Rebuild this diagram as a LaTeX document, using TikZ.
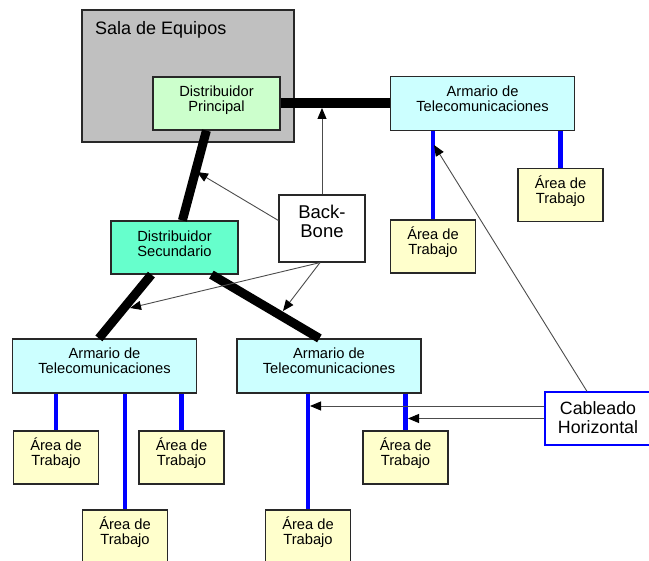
\documentclass[tikz,border=0pt]{standalone}
\usepackage{fontspec}
\setmainfont{Liberation Sans}
\usetikzlibrary{arrows.meta,calc}
\definecolor{salagray}{RGB}{192,192,192}
\definecolor{dpgreen}{RGB}{204,255,204}
\definecolor{dsgreen}{RGB}{102,255,204}
\definecolor{armcyan}{RGB}{204,255,255}
\definecolor{awyellow}{RGB}{255,255,204}
\definecolor{edgegray}{RGB}{40,40,40}
\definecolor{cablblue}{RGB}{0,0,255}
\newcommand\fsmall{\fontsize{14.7}{15}\selectfont}
\newcommand\fbig{\fontsize{18}{20}\selectfont}
% #1 width, #2 height, #3 first baseline from top, #4 line distance, #5 text
\newcommand\inbox[5]{\parbox[c][#2][t]{#1}{\centering\baselineskip=#4\rule{0pt}{#3}#5\par}}
\begin{document}
\begin{tikzpicture}[x=1pt,y=-1pt,
  box/.style={draw=edgegray,line width=1.2pt,inner sep=0pt,font=\fsmall},
  armbox/.style={box,fill=armcyan,minimum width=184pt,minimum height=54pt},
  awbox/.style={box,fill=awyellow,minimum width=85pt,minimum height=53pt},
  blueline/.style={draw=cablblue,line width=4.5pt},
  thickline/.style={draw=black,line width=9pt},
  arr/.style={draw=black!70,line width=0.9pt,-{Triangle[length=11pt,width=9pt,color=black]}}
]
\useasboundingbox (0,0) rectangle (649,561);

% Sala de Equipos
\node[box,fill=salagray,minimum width=212pt,minimum height=132pt] (sala) at (188,76) {};
\node[anchor=base west,font=\fbig,inner sep=0pt] (salalabel) at (95,35) {Sala de Equipos};

% main nodes
\node[box,fill=dpgreen,minimum width=127pt,minimum height=53pt] (dp) at (216.5,103.5)
  {\inbox{122pt}{53pt}{19.5pt}{15.5pt}{Distribuidor\\Principal}};
\node[armbox] (at) at (482.5,103.5) {\inbox{180pt}{54pt}{20pt}{15pt}{Armario de\\Telecomunicaciones}};
\node[awbox] (aw1) at (560.5,195) {\inbox{82pt}{53pt}{20pt}{15pt}{Área de\\Trabajo}};
\node[awbox] (aw2) at (433,246.5) {\inbox{82pt}{53pt}{20pt}{15pt}{Área de\\Trabajo}};
\node[box,fill=white,font=\fontsize{18.5}{20}\selectfont,minimum width=86pt,minimum height=67pt] (bb) at (322,228.5)
  {\inbox{80pt}{67pt}{24pt}{18.5pt}{Back-\\Bone}};
\node[box,fill=dsgreen,minimum width=127pt,minimum height=53pt] (ds) at (174.5,247.5)
  {\inbox{122pt}{53pt}{20.5pt}{14.8pt}{Distribuidor\\Secundario}};
\node[armbox] (al) at (104.5,366) {\inbox{180pt}{54pt}{20pt}{15pt}{Armario de\\Telecomunicaciones}};
\node[armbox] (am) at (329,366) {\inbox{180pt}{54pt}{20pt}{15pt}{Armario de\\Telecomunicaciones}};
\node[awbox] (aw3) at (56,457.5) {\inbox{82pt}{53pt}{20pt}{15pt}{Área de\\Trabajo}};
\node[awbox] (aw4) at (181.5,457.5) {\inbox{82pt}{53pt}{20pt}{15pt}{Área de\\Trabajo}};
\node[awbox] (aw5) at (125,536.5) {\inbox{82pt}{53pt}{20pt}{15pt}{Área de\\Trabajo}};
\node[awbox] (aw7) at (405.5,457.5) {\inbox{82pt}{53pt}{20pt}{15pt}{Área de\\Trabajo}};
\node[awbox] (aw6) at (308,536.5) {\inbox{82pt}{53pt}{20pt}{15pt}{Área de\\Trabajo}};
\node[box,draw=cablblue,fill=white,font=\fontsize{17.8}{19}\selectfont,minimum width=106pt,minimum height=53pt] (ch) at (598,418.5)
  {\inbox{100pt}{53pt}{23pt}{19pt}{Cableado\\Horizontal}};

% backbone thick lines
\draw[thickline,line width=10pt] (dp.east) -- (at.west);
\draw[thickline] ($(dp.south west)+(54,0)$) -- ($(ds.north west)+(72,0)$);
\draw[thickline] ($(ds.south west)+(41,0)$) -- ($(al.north west)+(87,0)$);
\draw[thickline] ($(ds.south west)+(101,0)$) -- ($(am.north west)+(83,0)$);

% horizontal cabling (blue)
\draw[blueline] (aw1.north |- at.south) -- (aw1.north);
\draw[blueline] (aw2.north |- at.south) -- (aw2.north);
\draw[blueline] (aw3.north |- al.south) -- (aw3.north);
\draw[blueline] (aw5.north |- al.south) -- (aw5.north);
\draw[blueline] (aw4.north |- al.south) -- (aw4.north);
\draw[blueline] (aw6.north |- am.south) -- (aw6.north);
\draw[blueline] (aw7.north |- am.south) -- (aw7.north);

% label arrows
\coordinate (tipA) at (322,108);
\coordinate (tipB) at (197,172);
\coordinate (tipC) at (130,308);
\coordinate (tipD) at (283,311);
\coordinate (tipE) at (434,145);
\coordinate (tipF) at (310,406);
\coordinate (tipG) at (408,418.5);
\draw[arr] (bb.north) -- (tipA);
\draw[arr] ([yshift=8pt]bb.west) -- (tipB);
\draw[arr] ([xshift=-2pt]bb.south) -- (tipC);
\draw[arr] ([xshift=-2pt]bb.south) -- (tipD);
\draw[arr] ([xshift=-11pt]ch.north) -- (tipE);
\draw[arr] ([yshift=12.5pt]ch.west) -- (tipF);
\draw[arr] (ch.west) -- (tipG);
\end{tikzpicture}
\end{document}
